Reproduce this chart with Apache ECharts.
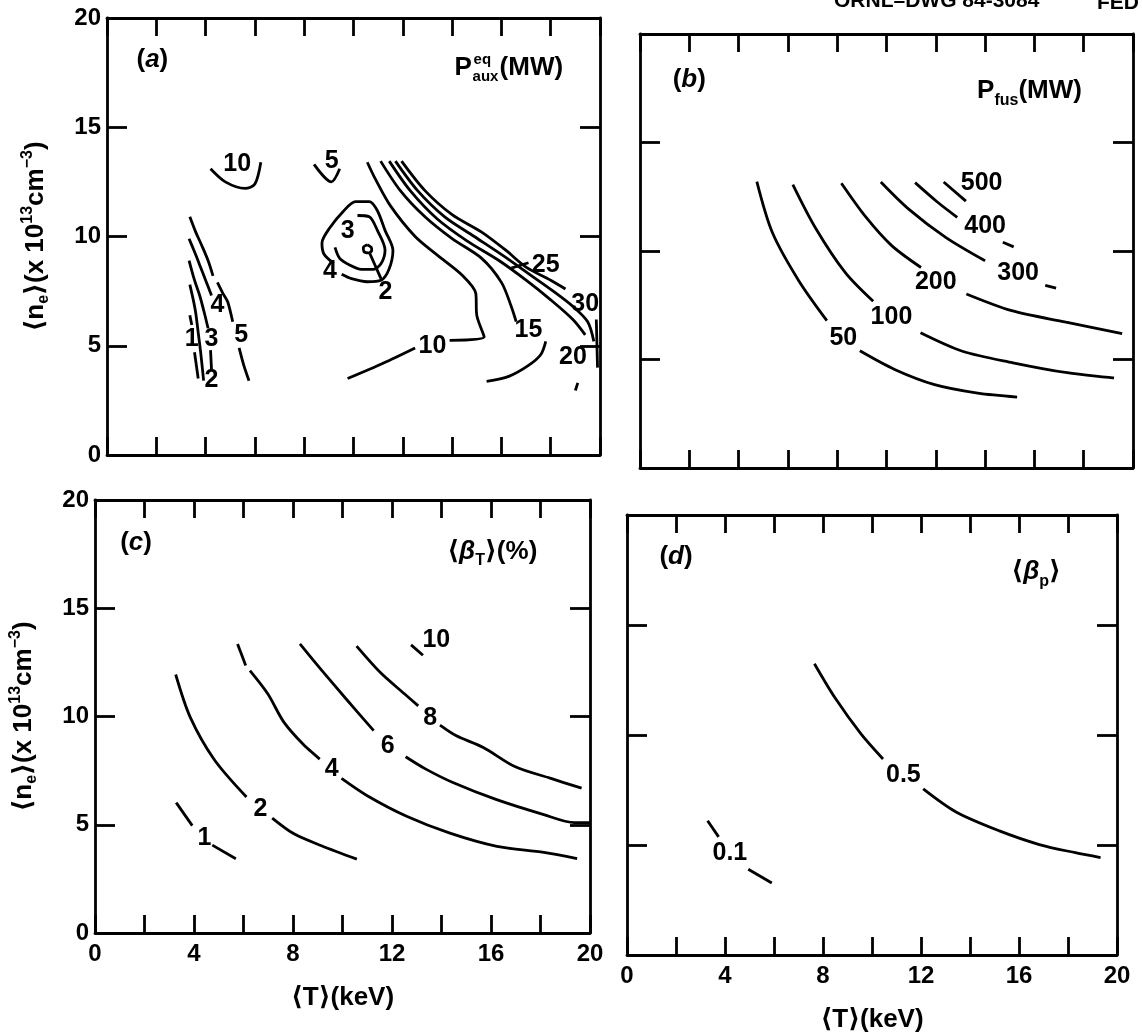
<!DOCTYPE html>
<html>
<head>
<meta charset="utf-8">
<script src="https://cdn.jsdelivr.net/npm/echarts@6/dist/echarts.min.js"></script>
<style>
  html, body { margin: 0; padding: 0; background: #fff; }
  #main { width: 1142px; height: 1034px; }
</style>
</head>
<body>
<div id="main"></div>
<script>
// ---- data: contour lines, [T (keV), n_e (1e13 cm^-3)] ----

// (a) P_aux^eq (MW)
const aux10 = [
  [[4.2, 13.1], [4.8, 12.5], [5.6, 12.2], [6.0, 12.4], [6.24, 13.4]],
  [[9.76, 3.5], [11.2, 4.2], [12.5, 4.9]],
  [[13.9, 5.25], [15.3, 5.4], [15.0, 6.4], [14.96, 7.4], [14.4, 8.24], [13.4, 9.15], [12.5, 10.0], [11.5, 11.4], [10.9, 12.6], [10.56, 13.4]]
];
const aux5 = [
  [[8.4, 13.3], [9.1, 12.5], [9.44, 13.1]],
  [[4.48, 7.9], [4.7, 7.4], [4.9, 7.0], [5.1, 6.1]],
  [[5.36, 4.9], [5.55, 4.1], [5.76, 3.4]]
];
const auxLeft = [
  [[3.36, 10.9], [3.6, 10.2], [3.84, 9.6], [4.1, 8.9], [4.3, 8.2]],
  [[3.33, 9.9], [3.55, 9.3], [3.76, 8.7], [4.0, 8.0], [4.24, 7.3]],
  [[3.33, 8.9], [3.55, 8.0], [3.76, 7.3], [3.95, 6.5], [4.1, 5.8]],
  [[4.2, 4.8], [4.24, 3.9]],
  [[3.36, 7.8], [3.5, 7.1], [3.6, 6.5], [3.7, 5.6], [3.8, 4.7], [3.92, 3.4]],
  [[3.36, 6.4], [3.44, 5.95]],
  [[3.55, 4.7], [3.7, 3.5]]
];
const auxLoop4 = [[9.52, 8.27], [9.92, 8.07], [10.56, 7.93], [11.12, 8.0], [11.44, 8.5], [11.6, 9.36], [11.28, 10.28], [10.96, 11.2], [10.64, 11.6], [10.08, 11.6], [9.6, 11.17], [9.04, 10.4], [8.72, 9.7], [8.8, 9.2], [9.2, 8.77]];
const auxLoop3 = [[10.16, 10.96], [10.64, 10.9], [10.96, 10.3], [11.28, 9.38], [11.12, 8.76], [10.8, 8.5], [10.32, 8.5], [9.84, 8.7], [9.44, 9.0], [9.25, 9.5]];
const auxLoop2 = [[10.56, 9.62], [10.72, 9.5], [10.74, 9.36], [10.6, 9.25], [10.42, 9.32], [10.4, 9.5], [10.56, 9.62]];
const auxLead2 = [[10.64, 9.28], [11.12, 8.06]];
const aux15 = [
  [[11.1, 13.45], [11.9, 12.1], [12.9, 10.9], [14.0, 9.9], [15.2, 9.0], [16.0, 7.9], [16.4, 6.8], [16.6, 6.1]],
  [[15.4, 3.37], [16.3, 3.6], [17.1, 4.1], [17.6, 4.6], [17.8, 5.2]]
];
const aux20 = [
  [[11.45, 13.45], [12.3, 12.1], [13.4, 10.8], [14.6, 9.8], [15.9, 8.9], [17.0, 8.0], [18.0, 7.1], [18.9, 6.2], [19.4, 5.5]],
  [[19.1, 3.3], [19.0, 2.95]]
];
const aux25 = [
  [[11.7, 13.45], [12.6, 12.1], [13.7, 10.9], [14.9, 10.0], [16.1, 9.1], [17.1, 8.3], [18.1, 7.5], [18.9, 6.8], [19.5, 6.1], [19.75, 5.2]],
  [[16.4, 8.55], [17.1, 8.8]]
];
const aux30 = [
  [[11.95, 13.45], [12.9, 12.1], [14.0, 11.0], [15.2, 10.2], [16.2, 9.35], [17.0, 8.6], [18.0, 8.0], [18.6, 7.6]],
  [[19.85, 6.2], [19.9, 4.0]]
];
const auxLabels = [[5.28, 13.3, '10'], [9.12, 13.46, '5'], [3.44, 5.3, '1'], [4.24, 5.3, '3'], [5.44, 5.5, '5'], [4.24, 3.45, '2'], [4.48, 6.85, '4'], [9.76, 10.25, '3'], [9.04, 8.4, '4'], [11.3, 7.46, '2'], [13.2, 5.0, '10'], [17.1, 5.7, '15'], [17.8, 8.7, '25'], [19.4, 6.9, '30'], [18.9, 4.5, '20']];

// (b) P_fus (MW)
const fus50 = [
  [[4.74, 13.2], [5.37, 10.85], [6.44, 8.63], [7.58, 6.79]],
  [[8.92, 5.4], [10.33, 4.54], [11.95, 3.84], [13.7, 3.45], [15.3, 3.27]]
];
const fus100 = [
  [[6.2, 13.06], [7.12, 11.06], [8.33, 9.0], [9.46, 7.68]],
  [[11.38, 6.23], [13.08, 5.38], [15.13, 4.85], [17.33, 4.39], [19.23, 4.15]]
];
const fus200 = [
  [[8.17, 13.12], [9.15, 11.58], [10.2, 10.26], [11.4, 9.24]],
  [[13.24, 8.02], [15.08, 7.25], [17.28, 6.72], [19.56, 6.19]]
];
const fus300 = [
  [[9.77, 13.18], [10.9, 11.93], [12.4, 10.63], [14.0, 9.55]],
  [[16.44, 8.42], [16.88, 8.29]]
];
const fus400 = [
  [[11.16, 13.15], [12.05, 12.27], [12.87, 11.55]],
  [[14.72, 10.4], [15.16, 10.19]]
];
const fus500 = [
  [[12.32, 13.18], [13.22, 12.3]]
];
const fusLabels = [[8.25, 5.98, '50'], [10.2, 6.95, '100'], [12.0, 8.58, '200'], [15.34, 8.99, '300'], [14.0, 11.13, '400'], [13.86, 13.15, '500']];

// (c) <beta_T> (%)
const betaT1 = [
  [[3.28, 6.02], [3.93, 4.96]],
  [[4.74, 4.06], [5.69, 3.43]]
];
const betaT2 = [
  [[3.26, 11.94], [3.85, 9.96], [4.83, 7.99], [6.12, 6.28]],
  [[7.16, 5.31], [8.04, 4.58], [9.15, 4.03], [10.58, 3.41]]
];
const betaT4 = [
  [[5.76, 13.35], [6.09, 12.36]],
  [[6.26, 12.12], [6.98, 11.05], [7.63, 9.74], [8.44, 8.68], [9.08, 8.03]],
  [[9.96, 7.14], [11.0, 6.34], [12.59, 5.39], [14.34, 4.61], [16.24, 4.0], [18.14, 3.72], [19.48, 3.43]]
];
const betaT6 = [
  [[8.28, 13.35], [9.17, 12.12], [10.14, 10.82], [11.26, 9.35]],
  [[12.55, 8.14], [13.35, 7.58], [14.46, 6.95], [16.2, 6.17], [18.1, 5.48], [19.37, 5.1], [20.0, 5.1]]
];
const betaT8 = [
  [[10.57, 13.25], [11.53, 12.03], [12.5, 11.05], [13.06, 10.49]],
  [[13.94, 9.6], [14.58, 9.12], [15.69, 8.57], [16.96, 7.69], [18.39, 7.15], [19.66, 6.69]]
];
const betaT10 = [
  [[12.77, 13.31], [13.25, 12.83]]
];
const betaTLabels = [[4.42, 4.39, '1'], [6.68, 5.71, '2'], [9.56, 7.55, '4'], [11.83, 8.62, '6'], [13.54, 9.92, '8'], [13.79, 13.51, '10']];

// (d) <beta_p>
const betaP05 = [
  [[7.65, 13.24], [8.49, 11.69], [9.55, 10.05], [10.45, 8.91]],
  [[12.09, 7.55], [13.43, 6.5], [15.2, 5.64], [16.83, 5.02], [18.3, 4.65], [19.33, 4.43]]
];
const betaP01 = [
  [[3.29, 6.1], [3.74, 5.37]],
  [[4.95, 3.9], [5.91, 3.27]]
];
const betaPLabels = [[11.28, 8.19, '0.5'], [4.2, 4.63, '0.1']];

const xTicks = [0, 4, 8, 12, 16, 20];

// ---- chart ----
const FONT = '"Liberation Sans", Arial, "DejaVu Sans", sans-serif';
const INK = '#000';

const grids = [
  { left: 107, top: 18, width: 493, height: 437 },
  { left: 640, top: 34, width: 493, height: 434 },
  { left: 95, top: 500, width: 495, height: 433 },
  { left: 627, top: 515, width: 490, height: 440 }
];

const yName = '⟨n{sb|e}⟩(x 10{sp|13}cm{sp|−3})';
const richAxis = {
  sb: { fontSize: 16, fontWeight: 'bold', fontFamily: FONT, verticalAlign: 'bottom', lineHeight: 16, color: INK },
  sp: { fontSize: 16, fontWeight: 'bold', fontFamily: FONT, verticalAlign: 'top', lineHeight: 16, color: INK }
};

const xAxes = [], yAxes = [];
grids.forEach(function (g, i) {
  const bottomRow = i >= 2;
  const leftCol = i % 2 === 0;
  const line = { show: true, onZero: false, lineStyle: { color: INK, width: 2.8 } };
  const tick = function (len) { return { show: true, inside: true, length: len, lineStyle: { color: INK, width: 2.8 } }; };
  xAxes.push({
    type: 'value', gridIndex: i, min: 0, max: 20, interval: 2, position: 'bottom',
    axisLine: line, axisTick: tick(18), splitLine: { show: false },
    axisLabel: {
      show: bottomRow, margin: 9, color: INK, fontSize: 24, fontWeight: 'bold', fontFamily: FONT,
      formatter: function (v) { return xTicks.indexOf(v) >= 0 ? String(v) : ''; }
    },
    name: bottomRow ? '⟨T⟩(keV)' : '', nameLocation: 'middle', nameGap: 52,
    nameTextStyle: { color: INK, fontSize: 26, fontWeight: 'bold', fontFamily: FONT }
  });
  xAxes.push({
    type: 'value', gridIndex: i, min: 0, max: 20, interval: 2, position: 'top',
    axisLine: line, axisTick: tick(18), splitLine: { show: false }, axisLabel: { show: false }
  });
  yAxes.push({
    type: 'value', gridIndex: i, min: 0, max: 20, interval: 5, position: 'left',
    axisLine: line, axisTick: tick(20), splitLine: { show: false },
    axisLabel: { show: leftCol, margin: 6, color: INK, fontSize: 24, fontWeight: 'bold', fontFamily: FONT },
    name: leftCol ? yName : '', nameLocation: 'middle', nameRotate: 90, nameGap: 55,
    nameTextStyle: { color: INK, fontSize: 26, fontWeight: 'bold', fontFamily: FONT, lineHeight: 32, rich: richAxis }
  });
  yAxes.push({
    type: 'value', gridIndex: i, min: 0, max: 20, interval: 5, position: 'right',
    axisLine: line, axisTick: tick(20), splitLine: { show: false }, axisLabel: { show: false }
  });
});

const series = [];
function addLines(panel, segs) {
  segs.forEach(function (seg) {
    series.push({
      type: 'line', xAxisIndex: panel * 2, yAxisIndex: panel * 2, data: seg,
      showSymbol: false, smooth: 0.3, silent: true,
      lineStyle: { color: INK, width: 2.8 }
    });
  });
}
function addLabels(panel, labels) {
  series.push({
    type: 'scatter', xAxisIndex: panel * 2, yAxisIndex: panel * 2, data: labels,
    symbolSize: 0, silent: true, itemStyle: { color: INK, opacity: 1 },
    label: {
      show: true, position: 'inside', color: INK, textBorderWidth: 0,
      fontSize: 25, fontWeight: 'bold', fontFamily: FONT,
      formatter: function (p) { return p.data[2]; }
    }
  });
}

[aux10, aux5, auxLeft, [auxLoop4], [auxLoop3], [auxLoop2], [auxLead2], aux15, aux20, aux25, aux30].forEach(function (s) { addLines(0, s); });
addLabels(0, auxLabels);
[fus50, fus100, fus200, fus300, fus400, fus500].forEach(function (s) { addLines(1, s); });
addLabels(1, fusLabels);
[betaT1, betaT2, betaT4, betaT6, betaT8, betaT10].forEach(function (s) { addLines(2, s); });
addLabels(2, betaTLabels);
[betaP05, betaP01].forEach(function (s) { addLines(3, s); });
addLabels(3, betaPLabels);

const chart = echarts.init(document.getElementById('main'), null, { renderer: 'canvas' });
chart.setOption({
  animation: false,
  backgroundColor: '#fff',
  grid: grids,
  xAxis: xAxes,
  yAxis: yAxes,
  series: series
});

// panel letters and quantity titles, placed in data coordinates of each panel
function at(panel, T, n) { return chart.convertToPixel({ gridIndex: panel }, [T, n]); }
const richTitle = {
  m: { fontSize: 26, fontWeight: 'bold', fontFamily: FONT, fill: INK, lineHeight: 34 },
  i: { fontSize: 26, fontWeight: 'bold', fontStyle: 'italic', fontFamily: FONT, fill: INK, lineHeight: 34 },
  sb: { fontSize: 16, fontWeight: 'bold', fontFamily: FONT, fill: INK, verticalAlign: 'bottom', lineHeight: 16 }
};
function txt(p, align, text) {
  return {
    type: 'text', x: p[0], y: p[1], silent: true,
    style: { text: text, rich: richTitle, align: align, verticalAlign: 'middle', fill: INK, font: 'bold 26px ' + FONT }
  };
}
const graphics = [];
graphics.push(txt(at(0, 1.84, 18.1), 'center', '{m|(}{i|a}{m|)}'));
graphics.push(txt(at(1, 2.0, 17.9), 'center', '{m|(}{i|b}{m|)}'));
graphics.push(txt(at(2, 1.66, 18.0), 'center', '{m|(}{i|c}{m|)}'));
graphics.push(txt(at(3, 2.0, 18.1), 'center', '{m|(}{i|d}{m|)}'));

// P_aux^eq (MW) with stacked super/subscript
const pa = at(0, 14.1, 17.7);
graphics.push(txt(pa, 'left', '{m|P}'));
graphics.push({ type: 'text', x: pa[0] + 19, y: pa[1] - 8, silent: true, style: { text: 'eq', align: 'left', verticalAlign: 'middle', fill: INK, font: 'bold 15px ' + FONT } });
graphics.push({ type: 'text', x: pa[0] + 18, y: pa[1] + 9, silent: true, style: { text: 'aux', align: 'left', verticalAlign: 'middle', fill: INK, font: 'bold 15px ' + FONT } });
graphics.push(txt([pa[0] + 45, pa[1]], 'left', '{m|(MW)}'));

graphics.push(txt(at(1, 15.8, 17.36), 'center', '{m|P}{sb|fus}{m|(MW)}'));
graphics.push(txt(at(2, 16.05, 17.6), 'center', '{m|⟨}{i|β}{sb|T}{m|⟩(%)}'));
graphics.push(txt(at(3, 16.7, 17.4), 'center', '{m|⟨}{i|β}{sb|p}{m|⟩}'));

// drawing number, cut off at the top edge of the scan
graphics.push({ type: 'text', x: 834, y: 12, silent: true, style: { text: 'ORNL–DWG 84-3084', align: 'left', verticalAlign: 'bottom', fill: INK, font: 'bold 21px ' + FONT } });
graphics.push({ type: 'text', x: 1097, y: 14, silent: true, style: { text: 'FED', align: 'left', verticalAlign: 'bottom', fill: INK, font: 'bold 21px ' + FONT } });

chart.setOption({ graphic: graphics });
</script>
</body>
</html>
